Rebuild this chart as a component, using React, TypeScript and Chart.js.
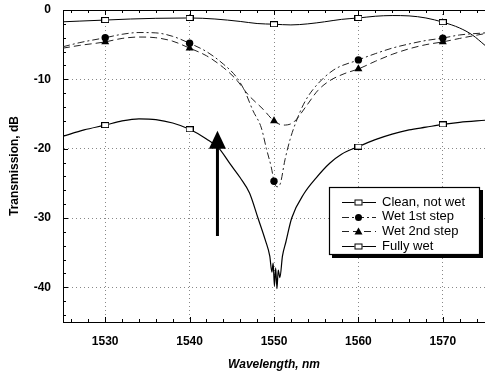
import React, { useEffect, useRef } from "react";
import { Chart, registerables } from "chart.js";

Chart.register(...registerables);

// ---------- data ----------
const seriesNames = ["Clean, not wet", "Wet 1st step", "Wet 2nd step", "Fully wet"];

const xTicks = [1530, 1540, 1550, 1560, 1570];
const yTicks = [0, -10, -20, -30, -40];
const xMin = 1525;
const xMax = 1575;
const yMin = -45;
const yMax = 0;

const cleanWl = [1525, 1527, 1530, 1533, 1536, 1540, 1543, 1546, 1548, 1550, 1552, 1554, 1556, 1558, 1560, 1562, 1564, 1566, 1568, 1570, 1572, 1573.5, 1575];
const cleanDb = [-1.7, -1.6, -1.45, -1.3, -1.2, -1.15, -1.3, -1.65, -1.95, -2.05, -2.15, -2.0, -1.7, -1.35, -1.15, -0.9, -0.8, -0.85, -1.15, -1.75, -2.6, -3.6, -5.1];
const cleanMarks = [1530, 1540, 1550, 1560, 1570];

const wet1Wl = [1525, 1527, 1530, 1532, 1534, 1536, 1538, 1540, 1542, 1544, 1545.5, 1546.5, 1547.5, 1548.5, 1549.1, 1549.7, 1550, 1550.35, 1550.7, 1551.3, 1551.9, 1552.5, 1553.5, 1554.6, 1557, 1560, 1562, 1564, 1566, 1568, 1570, 1572, 1575];
const wet1Db = [-5.3, -4.7, -4.0, -3.5, -3.25, -3.3, -3.8, -4.8, -6.0, -7.8, -9.6, -11.6, -14.5, -17.0, -20.0, -22.8, -24.7, -25.5, -25.2, -21.6, -18.7, -16.5, -13.6, -11.5, -8.7, -7.2, -6.3, -5.5, -4.9, -4.4, -4.05, -3.6, -3.3];
const wet1Marks = [1530, 1540, 1550, 1560, 1570];

const wet2Wl = [1525, 1527, 1530, 1532, 1534, 1536, 1538, 1540, 1542, 1544, 1545.5, 1547, 1548.7, 1550, 1551.1, 1552.3, 1553.8, 1555.2, 1556.6, 1558.3, 1560, 1562, 1564, 1566, 1568, 1570, 1572, 1575];
const wet2Db = [-5.5, -5.1, -4.6, -4.1, -3.9, -4.0, -4.5, -5.5, -6.6, -8.3, -10.0, -12.3, -14.3, -16.0, -16.6, -16.2, -13.9, -11.6, -10.2, -9.2, -8.5, -7.4, -6.4, -5.6, -5.0, -4.6, -4.1, -3.4];
const wet2Marks = [1530, 1540, 1550, 1560, 1570];

const fullWl = [1525, 1527.5, 1530, 1532, 1534, 1536, 1538, 1540, 1542, 1543.5, 1544.8, 1546, 1547.1, 1548.1, 1549, 1549.5, 1549.75, 1549.9, 1550.05, 1550.2, 1550.35, 1550.5, 1550.7, 1551, 1551.4, 1552.1, 1553.6, 1555, 1556.6, 1558, 1560, 1562, 1564, 1566, 1568, 1570, 1572, 1575];
const fullDb = [-18.2, -17.3, -16.6, -16.0, -15.7, -15.8, -16.3, -17.2, -18.6, -20.0, -22.2, -24.2, -26.4, -30.0, -33.3, -35.5, -37.8, -36.5, -39.8, -37.2, -40.2, -37.5, -38.6, -35.5, -33.5, -30.0, -26.4, -24.2, -22.1, -20.8, -19.7, -18.7, -17.9, -17.3, -16.9, -16.5, -16.2, -15.9];
const fullMarks = [1530, 1540, 1560, 1570];

// arrow annotation (wavelength, from dB, to dB)
const arrowWl = 1543.3;
const arrowFromDb = -32.6;
const arrowToDb = -17.4;

const FONT = "'Liberation Sans', Arial, Helvetica, sans-serif";

function makeRectMarker(): HTMLCanvasElement {
  const c = document.createElement("canvas");
  c.width = 8;
  c.height = 6;
  const g = c.getContext("2d")!;
  g.fillStyle = "#fff";
  g.fillRect(0, 0, 8, 6);
  g.strokeStyle = "#000";
  g.lineWidth = 1;
  g.strokeRect(0.5, 0.5, 7, 5);
  return c;
}

const toPts = (xs: number[], ys: number[]) => xs.map((x, i) => ({ x, y: ys[i] }));

const seriesStyles = [
  { dash: [] as number[], width: 1, color: "#000", marker: "rect" },
  { dash: [7, 3, 2, 3], width: 1, color: "#222", marker: "circle" },
  { dash: [7, 4], width: 1, color: "#222", marker: "triangle" },
  { dash: [] as number[], width: 1.2, color: "#000", marker: "rect" },
];

function drawMarker(ctx: CanvasRenderingContext2D, kind: string, x: number, y: number) {
  ctx.save();
  ctx.setLineDash([]);
  ctx.lineWidth = 1;
  ctx.strokeStyle = "#000";
  ctx.fillStyle = "#000";
  if (kind === "rect") {
    ctx.fillStyle = "#fff";
    ctx.fillRect(x - 4, y - 3, 8, 6);
    ctx.strokeRect(x - 3.5, y - 2.5, 7, 5);
  } else if (kind === "circle") {
    ctx.beginPath();
    ctx.arc(x, y, 3.5, 0, Math.PI * 2);
    ctx.fill();
  } else {
    ctx.beginPath();
    ctx.moveTo(x, y - 4);
    ctx.lineTo(x + 4, y + 3);
    ctx.lineTo(x - 4, y + 3);
    ctx.closePath();
    ctx.fill();
  }
  ctx.restore();
}

const decorPlugin = {
  id: "decor",
  afterDraw(chart: any) {
    const { ctx, chartArea: a, scales } = chart;
    const xs = scales.x;
    const ys = scales.y;
    ctx.save();
    ctx.strokeStyle = "#000";
    ctx.lineWidth = 1;
    ctx.setLineDash([]);
    // top frame
    const top = Math.round(a.top) + 0.5;
    ctx.beginPath();
    ctx.moveTo(a.left, top);
    ctx.lineTo(a.right, top);
    ctx.stroke();
    // minor ticks
    ctx.beginPath();
    for (let v = xMin + 1; v < xMax; v += 2) {
      const px = Math.round(xs.getPixelForValue(v)) + 0.5;
      const len = v % 10 === 0 ? 5 : 3;
      ctx.moveTo(px, a.bottom);
      ctx.lineTo(px, a.bottom - len);
      ctx.moveTo(px, a.top);
      ctx.lineTo(px, a.top + len);
    }
    for (let v = yMax; v >= yMin; v -= 2) {
      const py = Math.round(ys.getPixelForValue(v)) + 0.5;
      const len = v % 10 === 0 ? 5 : 3;
      ctx.moveTo(a.left, py);
      ctx.lineTo(a.left + len, py);
    }
    ctx.stroke();

    // arrow
    const ax = xs.getPixelForValue(arrowWl);
    const ay0 = ys.getPixelForValue(arrowFromDb);
    const ay1 = ys.getPixelForValue(arrowToDb);
    ctx.lineWidth = 3;
    ctx.beginPath();
    ctx.moveTo(ax, ay0);
    ctx.lineTo(ax, ay1 + 14);
    ctx.stroke();
    ctx.fillStyle = "#000";
    ctx.beginPath();
    ctx.moveTo(ax, ay1);
    ctx.lineTo(ax + 8.5, ay1 + 18);
    ctx.lineTo(ax - 8.5, ay1 + 18);
    ctx.closePath();
    ctx.fill();

    // legend
    const lx = 329, ly = 187, lw = 150, lh = 67;
    ctx.fillStyle = "#000";
    ctx.fillRect(lx + 3, ly + 3, lw + 1, lh + 1);
    ctx.fillStyle = "#fff";
    ctx.fillRect(lx, ly, lw, lh);
    ctx.lineWidth = 1.2;
    ctx.strokeStyle = "#000";
    ctx.strokeRect(lx + 0.5, ly + 0.5, lw, lh);
    const rows = [202, 216.5, 231, 246];
    ctx.font = `13px ${FONT}`;
    ctx.textBaseline = "middle";
    ctx.textAlign = "left";
    seriesNames.forEach((name, i) => {
      const st = seriesStyles[i];
      const ry = Math.round(rows[i]) + 0.5;
      ctx.save();
      ctx.strokeStyle = st.color;
      ctx.lineWidth = 1;
      ctx.setLineDash(st.dash);
      ctx.beginPath();
      ctx.moveTo(342, ry);
      ctx.lineTo(376, ry);
      ctx.stroke();
      ctx.restore();
      drawMarker(ctx, st.marker, 358.5, ry);
      ctx.fillStyle = "#000";
      ctx.fillText(name, 382, rows[i]);
    });
    ctx.restore();
  },
};

export default function App() {
  const ref = useRef<HTMLCanvasElement | null>(null);

  useEffect(() => {
    if (!ref.current) return;
    const rectMarker = makeRectMarker();
    const marker = (marks: number[], r: number) => (c: any) =>
      c.raw && marks.includes(c.raw.x) ? r : 0;

    const datasets = [
      { wl: cleanWl, db: cleanDb, marks: cleanMarks },
      { wl: wet1Wl, db: wet1Db, marks: wet1Marks },
      { wl: wet2Wl, db: wet2Db, marks: wet2Marks },
      { wl: fullWl, db: fullDb, marks: fullMarks },
    ].map((s, i) => {
      const st = seriesStyles[i];
      const ps = st.marker === "rect" ? rectMarker : st.marker;
      const r = st.marker === "circle" ? 3.7 : st.marker === "triangle" ? 4.6 : 4;
      return {
        label: seriesNames[i],
        data: toPts(s.wl, s.db),
        borderColor: st.color,
        borderWidth: st.width,
        borderDash: st.dash,
        fill: false,
        cubicInterpolationMode: "monotone" as const,
        pointStyle: ps as any,
        pointRadius: marker(s.marks, r),
        pointHoverRadius: 0,
        pointBackgroundColor: "#000",
        pointBorderColor: "#000",
        pointBorderWidth: 0,
      };
    });

    const chart = new Chart(ref.current, {
      type: "line",
      data: { datasets },
      plugins: [decorPlugin],
      options: {
        responsive: false,
        animation: false,
        devicePixelRatio: 1,
        layout: { padding: { top: 10, left: 0, right: 0, bottom: 0 } },
        plugins: { legend: { display: false }, tooltip: { enabled: false } },
        scales: {
          x: {
            type: "linear",
            min: xMin,
            max: xMax,
            afterBuildTicks: (s: any) => {
              s.ticks = xTicks.map((v) => ({ value: v }));
            },
            afterFit: (s: any) => {
              s.height = 53;
              s.paddingLeft = 0;
              s.paddingRight = 0;
            },
            grid: { color: "#888", lineWidth: 1, drawTicks: false },
            border: { display: true, color: "#000", width: 1, dash: [1, 3] },
            ticks: {
              color: "#000",
              padding: 12,
              font: { family: FONT, size: 12, weight: "bold" },
              maxRotation: 0,
              callback: (v: any) => String(v),
            },
            title: {
              display: true,
              text: "Wavelength, nm",
              color: "#000",
              font: { family: FONT, size: 12, weight: "bold", style: "italic" },
              padding: { top: 0, bottom: 3 },
            },
          },
          y: {
            type: "linear",
            min: yMin,
            max: yMax,
            afterBuildTicks: (s: any) => {
              s.ticks = yTicks.map((v) => ({ value: v }));
            },
            afterFit: (s: any) => {
              s.width = 63;
              s.paddingTop = 0;
              s.paddingBottom = 0;
            },
            grid: {
              color: (c: any) => (c.tick && c.tick.value === 0 ? "rgba(0,0,0,0)" : "#888"),
              lineWidth: 1,
              drawTicks: false,
            },
            border: { display: true, color: "#000", width: 1, dash: [1, 3] },
            ticks: {
              color: "#000",
              padding: 12,
              font: { family: FONT, size: 12, weight: "bold" },
              callback: (v: any) => String(v),
            },
            title: {
              display: true,
              text: "Transmission, dB",
              color: "#000",
              font: { family: FONT, size: 12, weight: "bold" },
              padding: { top: 7, bottom: 0 },
            },
          },
        },
      },
    });
    return () => chart.destroy();
  }, []);

  return (
    <canvas
      ref={ref}
      width={485}
      height={375}
      style={{ position: "fixed", left: 0, top: 0, width: 485, height: 375 }}
    />
  );
}
